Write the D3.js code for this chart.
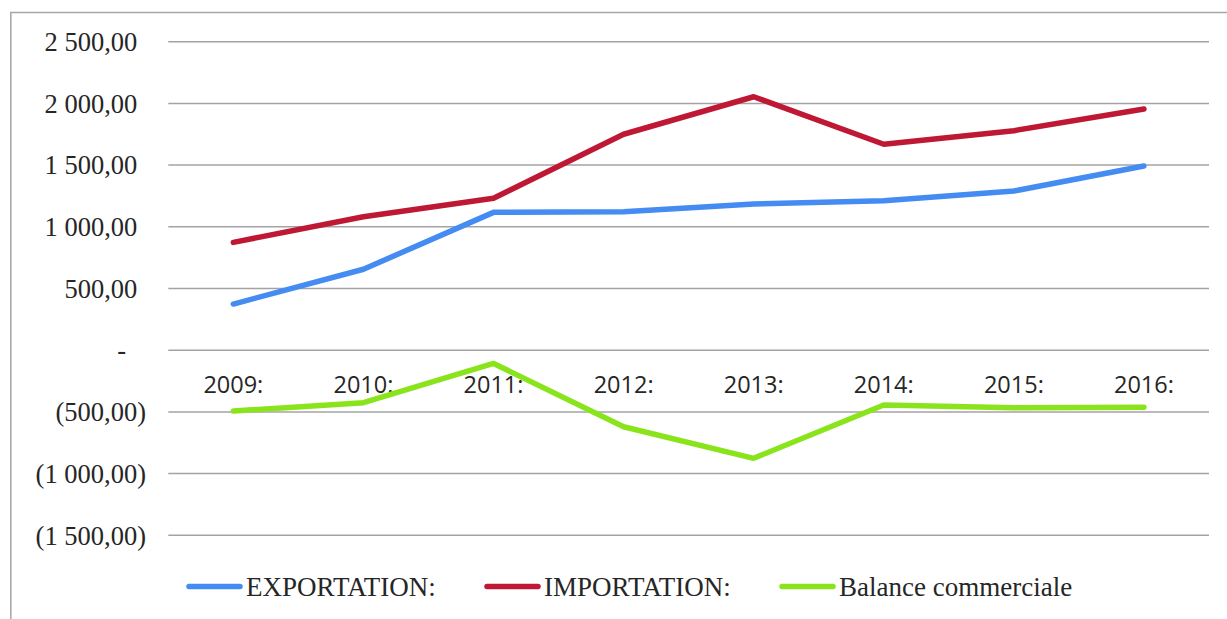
<!DOCTYPE html>
<html><head><meta charset="utf-8">
<script src="https://cdn.jsdelivr.net/npm/d3@7"></script>
<style>html,body{margin:0;padding:0;background:#fff;}svg{display:block;}</style>
</head><body>
<svg id="chart" width="1227" height="619"></svg>
<script>
const categories = ["2009:", "2010:", "2011:", "2012:", "2013:", "2014:", "2015:", "2016:"];
const exportation = [374, 656, 1117, 1122, 1185, 1211, 1290, 1493];
const importation = [874, 1082, 1231, 1750, 2054, 1669, 1779, 1955];
const balance = [-493, -425, -107, -620, -876, -444, -466, -463];
const yTicks = [2500, 2000, 1500, 1000, 500, 0, -500, -1000, -1500];
const seriesNames = ["EXPORTATION:", "IMPORTATION:", "Balance commerciale"];
const seriesColors = ["#448cf2", "#be1835", "#8ae41c"];

(function () {
const svg = d3.select("#chart");
const pLeft = 168.3, pRight = 1209, pTop = 41.7, pBottom = 535.3;

// frame
svg.append("path").attr("d", "M10.8,619 L10.8,12.5 L1227,12.5")
  .attr("fill", "none").attr("stroke", "#a6a6a6").attr("stroke-width", 1.5);

const x = d3.scaleBand().domain(categories).range([pLeft, pRight]);
const y = d3.scaleLinear().domain([-1500, 2500]).range([pBottom, pTop]);

// gridlines
svg.append("g").selectAll("line").data(yTicks).join("line")
  .attr("x1", pLeft).attr("x2", pRight)
  .attr("y1", d => y(d)).attr("y2", d => y(d))
  .attr("stroke", "#a3a3a3").attr("stroke-width", 1.5);

// y labels
function fmt(v) {
  if (v === 0) return "-";
  const s = d3.format(",.2f")(Math.abs(v)).replace(/,/g, " ").replace(".", ",");
  return v < 0 ? "(" + s + ")" : s;
}
svg.append("g").selectAll("text").data(yTicks).join("text")
  .attr("x", d => d < 0 ? 146 : (d === 0 ? 126 : 137.3))
  .attr("y", d => y(d))
  .attr("dy", "0.35em")
  .attr("text-anchor", "end")
  .attr("font-family", "Liberation Serif, Times New Roman, serif")
  .attr("font-size", 26.5)
  .attr("fill", "#262626")
  .text(fmt);

// category labels
svg.append("g").selectAll("text").data(categories).join("text")
  .attr("x", d => x(d) + x.bandwidth() / 2)
  .attr("y", 385)
  .attr("dy", "0.35em")
  .attr("text-anchor", "middle")
  .attr("font-family", "Open Sans, sans-serif")
  .attr("font-size", 23.5)
  .attr("fill", "#262626")
  .text(d => d);

const line = d3.line().x((d, i) => x(categories[i]) + x.bandwidth() / 2).y(d => y(d));
[exportation, importation, balance].forEach((s, k) => {
  svg.append("path").datum(s).attr("d", line)
    .attr("fill", "none").attr("stroke", seriesColors[k])
    .attr("stroke-width", 5.5).attr("stroke-linecap", "round").attr("stroke-linejoin", "round");
});

// legend
const legX = [187, 485, 780];
const lg = svg.append("g");
seriesNames.forEach((n, k) => {
  lg.append("line").attr("x1", legX[k] + 2).attr("x2", legX[k] + 53)
    .attr("y1", 586.5).attr("y2", 586.5)
    .attr("stroke", seriesColors[k]).attr("stroke-width", 5.5).attr("stroke-linecap", "round");
  lg.append("text").attr("x", legX[k] + 59).attr("y", 596)
    .attr("font-family", "Liberation Serif, Times New Roman, serif")
    .attr("font-size", 27).attr("fill", "#262626").text(n);
});
})();
</script>
</body></html>
